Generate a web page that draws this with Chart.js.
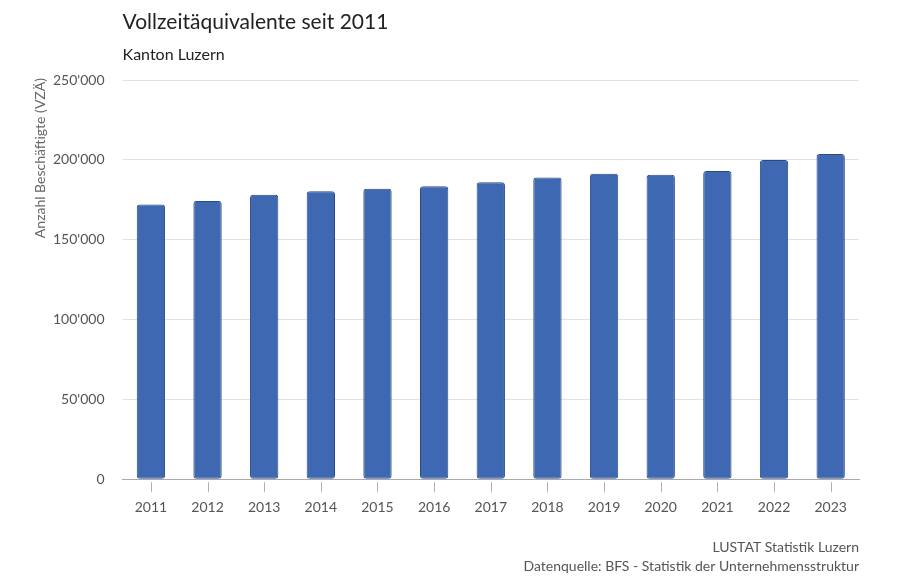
<!DOCTYPE html>
<html>
<head>
<meta charset="utf-8">
<script src="https://cdn.jsdelivr.net/npm/chart.js@4.4.1/dist/chart.umd.min.js"></script>
<style>
  html, body { margin: 0; padding: 0; background: #fff; }
  #wrap { width: 920px; height: 576px; }
</style>
</head>
<body>
<div id="wrap"><canvas id="myChart" width="920" height="576"></canvas></div>
<script>
// Vollzeitäquivalente Kanton Luzern, 2011-2023
var years = ['2011', '2012', '2013', '2014', '2015', '2016', '2017', '2018', '2019', '2020', '2021', '2022', '2023'];
var vza = [172000, 174300, 178100, 180400, 181900, 183500, 186000, 189000, 191300, 190700, 193000, 199900, 203700];
var yTicks = [0, 50000, 100000, 150000, 200000, 250000];

var FONT = 'Lato, "Source Sans Pro", "Noto Sans", sans-serif';

function swissNumber(v) {
    return String(v).replace(/\B(?=(\d{3})+(?!\d))/g, "'");
}

// titles, axis title, x tick marks and footer drawn relative to the chart area
var textPlugin = {
    id: 'texts',
    afterDraw: function(chart) {
        var ctx = chart.ctx;
        var area = chart.chartArea;
        var xScale = chart.scales.x;
        ctx.save();
        // tick marks under the x axis
        ctx.strokeStyle = '#b0b0b0';
        ctx.lineWidth = 1;
        ctx.beginPath();
        for (var i = 0; i < years.length; i++) {
            var px = Math.round(xScale.getPixelForValue(i)) + 0.5;
            ctx.moveTo(px, area.bottom + 3);
            ctx.lineTo(px, area.bottom + 13);
        }
        ctx.stroke();

        ctx.textBaseline = 'alphabetic';
        ctx.fillStyle = '#222';
        ctx.textAlign = 'left';
        ctx.font = '21px ' + FONT;
        ctx.fillText('Vollzeitäquivalente seit 2011', area.left, 29);
        ctx.font = '16px ' + FONT;
        ctx.fillText('Kanton Luzern', area.left, 60);
        ctx.fillStyle = '#555';
        ctx.textAlign = 'right';
        ctx.font = '14px ' + FONT;
        ctx.fillText('LUSTAT Statistik Luzern', area.right, 552);
        ctx.fillText('Datenquelle: BFS - Statistik der Unternehmensstruktur', area.right, 571);
        // y axis title, aligned to top
        ctx.translate(40, area.top - 2);
        ctx.rotate(-Math.PI / 2);
        ctx.textAlign = 'right';
        ctx.textBaseline = 'middle';
        ctx.fillStyle = '#666';
        ctx.fillText('Anzahl Beschäftigte (VZÄ)', 0, 0);
        ctx.restore();
    }
};

var config = {
    type: 'bar',
    data: {
        labels: years,
        datasets: [{
            label: 'Vollzeitäquivalente',
            data: vza,
            backgroundColor: '#3e68b2',
            borderColor: '#2a4a86',
            borderWidth: 1,
            borderRadius: 3,
            borderSkipped: false,
            barPercentage: 0.5,
            categoryPercentage: 1.0
        }]
    },
    options: {
        responsive: false,
        animation: false,
        layout: {
            padding: { top: 80, right: 61, bottom: 48, left: 35 }
        },
        plugins: {
            legend: { display: false },
            title: { display: false },
            tooltip: { enabled: false }
        },
        scales: {
            x: {
                grid: {
                    display: false
                },
                border: { display: true, color: '#aaa' },
                ticks: {
                    color: '#555',
                    font: { family: FONT, size: 14 },
                    padding: 12
                }
            },
            y: {
                min: 0,
                max: 250000,
                afterBuildTicks: function(axis) {
                    axis.ticks = yTicks.map(function(v) { return { value: v }; });
                },
                grid: {
                    color: '#e2e2e2',
                    drawTicks: false
                },
                border: { display: false },
                ticks: {
                    color: '#555',
                    font: { family: FONT, size: 14 },
                    padding: 18,
                    callback: function(v) { return swissNumber(v); }
                }
            }
        }
    },
    plugins: [textPlugin]
};

window.onload = function() {
    var ctx = document.getElementById('myChart').getContext('2d');
    window.myBar = new Chart(ctx, config);
};
</script>
</body>
</html>
